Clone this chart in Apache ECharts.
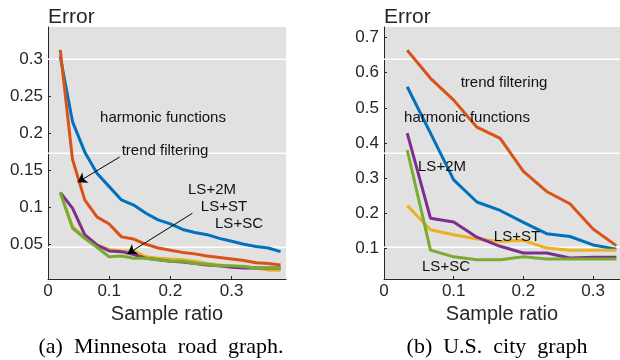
<!DOCTYPE html>
<html>
<head>
<meta charset="utf-8">
<script src="https://cdn.jsdelivr.net/npm/echarts@6/dist/echarts.min.js"></script>
<style>
  html, body { margin: 0; padding: 0; background: #fff; }
  #chart { width: 620px; height: 360px; }
</style>
</head>
<body>
<div id="chart"></div>
<script>
// (a) Minnesota road graph
const ratioA = [0.02, 0.04, 0.06, 0.08, 0.10, 0.12, 0.14, 0.16, 0.18, 0.20,
                0.22, 0.24, 0.26, 0.28, 0.30, 0.32, 0.34, 0.36, 0.38];
const harmonicA = [0.304, 0.216, 0.175, 0.146, 0.128, 0.110, 0.103, 0.092, 0.083, 0.0775,
                   0.070, 0.066, 0.063, 0.058, 0.054, 0.050, 0.047, 0.045, 0.040];
const trendA = [0.313, 0.165, 0.110, 0.087, 0.0775, 0.060, 0.057, 0.050, 0.045, 0.042,
                0.039, 0.037, 0.034, 0.032, 0.030, 0.028, 0.025, 0.024, 0.022];
const lsstA = [0.120, 0.074, 0.059, 0.049, 0.043, 0.041, 0.041, 0.033, 0.031, 0.030,
               0.029, 0.027, 0.024, 0.022, 0.020, 0.020, 0.018, 0.015, 0.015];
const ls2mA = [0.120, 0.099, 0.063, 0.049, 0.041, 0.040, 0.036, 0.031, 0.029, 0.027,
               0.026, 0.024, 0.022, 0.021, 0.019, 0.018, 0.018, 0.018, 0.018];
const lsscA = [0.120, 0.072, 0.058, 0.046, 0.033, 0.034, 0.031, 0.031, 0.029, 0.027,
               0.027, 0.024, 0.023, 0.021, 0.021, 0.020, 0.018, 0.018, 0.018];

// (b) U.S. city graph
const ratioB = [0.0333, 0.0667, 0.1, 0.1333, 0.1667, 0.2, 0.2333, 0.2667, 0.3, 0.3333];
const harmonicB = [0.560, 0.428, 0.295, 0.232, 0.208, 0.174, 0.142, 0.134, 0.110, 0.098];
const trendB = [0.664, 0.584, 0.522, 0.445, 0.413, 0.319, 0.262, 0.227, 0.155, 0.108];
const lsstB = [0.222, 0.153, 0.139, 0.127, 0.120, 0.123, 0.101, 0.095, 0.095, 0.095];
const ls2mB = [0.428, 0.186, 0.175, 0.132, 0.106, 0.087, 0.087, 0.073, 0.075, 0.075];
const lsscB = [0.380, 0.095, 0.076, 0.068, 0.068, 0.076, 0.070, 0.070, 0.070, 0.070];

const xTicks = [0, 0.1, 0.2, 0.3];
const yTicksA = [0.05, 0.1, 0.15, 0.2, 0.25, 0.3];
const yTicksB = [0.1, 0.2, 0.3, 0.4, 0.5, 0.6, 0.7];

const colors = {
  harmonic: "#0072BD",
  trend: "#D95319",
  lsst: "#EDB120",
  ls2m: "#7E2F8E",
  lssc: "#77AC30",
};

const axisColor = "#262626";
const sans = "'Liberation Sans', Arial, sans-serif";

const pairs = (xs, ys) => xs.map((x, i) => [x, ys[i]]);

const xAxisBase = (gridIndex, max) => ({
  type: "value",
  gridIndex,
  min: 0,
  max,
  name: "Sample ratio",
  nameLocation: "middle",
  nameGap: 32,
  nameTextStyle: { fontFamily: sans, fontSize: 20, color: axisColor, verticalAlign: "middle" },
  axisLine: { show: true, lineStyle: { color: axisColor, width: 1 } },
  axisTick: { show: true, inside: true, length: 3, customValues: xTicks, lineStyle: { color: axisColor } },
  axisLabel: { customValues: xTicks, margin: 4, fontFamily: sans, fontSize: 17, color: axisColor },
  splitLine: { show: false },
});

const yAxisBase = (gridIndex, min, max, ticks) => ({
  type: "value",
  gridIndex,
  min,
  max,
  name: "Error",
  nameLocation: "end",
  nameGap: 10,
  nameTextStyle: { fontFamily: sans, fontSize: 21, color: axisColor, align: "left", verticalAlign: "middle" },
  axisLine: { show: true, lineStyle: { color: axisColor, width: 1 } },
  axisTick: { show: true, inside: true, length: 3, customValues: ticks, lineStyle: { color: axisColor } },
  axisLabel: { customValues: ticks, margin: 5, fontFamily: sans, fontSize: 17, color: axisColor },
  splitLine: { show: false },
});

const lineSeries = (name, idx, xs, ys, color, extra) =>
  Object.assign({
    name,
    type: "line",
    xAxisIndex: idx,
    yAxisIndex: idx,
    data: pairs(xs, ys),
    showSymbol: false,
    lineStyle: { color, width: 3 },
    itemStyle: { color },
    z: 3,
  }, extra || {});

const arrow = (from, to) => [{ coord: from }, { coord: to }];

const arrowMark = (lines) => ({
  markLine: {
    silent: true,
    symbol: ["none", "arrow"],
    symbolSize: 9,
    label: { show: false },
    lineStyle: { color: "#000", width: 1, type: "solid" },
    data: lines,
  },
});

const note = (text, x, y) => ({
  type: "text",
  x,
  y,
  z: 100,
  style: {
    text,
    fill: "#111",
    font: "15px " + sans,
    textAlign: "center",
    textVerticalAlign: "middle",
  },
});

const caption = (text, x) => ({
  type: "text",
  x,
  y: 347,
  style: {
    text,
    fill: "#000",
    font: "22px 'Liberation Serif', 'Times New Roman', serif",
    textAlign: "center",
    textVerticalAlign: "middle",
  },
});

// white scan-line artifacts seen in the source figure
const stripe = (x, w, y) => ({
  type: "rect",
  z: 1,
  shape: { x, y: y - 0.8, width: w, height: 1.6 },
  style: { fill: "#ffffff" },
});

const chart = echarts.init(document.getElementById("chart"));

chart.setOption({
  animation: false,
  backgroundColor: "#fff",
  grid: [
    { left: 48, top: 27, width: 238, height: 252, show: true, backgroundColor: "#e1e1e1", borderWidth: 0 },
    { left: 384, top: 27, width: 236, height: 252, show: true, backgroundColor: "#e1e1e1", borderWidth: 0 },
  ],
  xAxis: [xAxisBase(0, 0.3889), xAxisBase(1, 0.3386)],
  yAxis: [yAxisBase(0, 0.003, 0.344, yTicksA), yAxisBase(1, 0.013, 0.73, yTicksB)],
  series: [
    lineSeries("harmonic functions", 0, ratioA, harmonicA, colors.harmonic),
    lineSeries("trend filtering", 0, ratioA, trendA, colors.trend,
      arrowMark([arrow([0.117, 0.168], [0.0485, 0.134]), arrow([0.236, 0.092], [0.130, 0.037])])),
    lineSeries("LS+ST", 0, ratioA, lsstA, colors.lsst),
    lineSeries("LS+2M", 0, ratioA, ls2mA, colors.ls2m),
    lineSeries("LS+SC", 0, ratioA, lsscA, colors.lssc),
    lineSeries("harmonic functions", 1, ratioB, harmonicB, colors.harmonic),
    lineSeries("trend filtering", 1, ratioB, trendB, colors.trend),
    lineSeries("LS+ST", 1, ratioB, lsstB, colors.lsst),
    lineSeries("LS+2M", 1, ratioB, ls2mB, colors.ls2m),
    lineSeries("LS+SC", 1, ratioB, lsscB, colors.lssc),
  ],
  graphic: [
    stripe(46, 240, 59.3), stripe(46, 240, 153.3), stripe(46, 240, 247.3),
    stripe(382, 238, 59.3), stripe(382, 238, 153.3), stripe(382, 238, 247.3),
    note("harmonic functions", 163, 118),
    note("trend filtering", 165, 151),
    note("LS+2M", 212, 190),
    note("LS+ST", 224, 207),
    note("LS+SC", 239, 224),
    note("trend filtering", 504, 83),
    note("harmonic functions", 467, 118),
    note("LS+2M", 442, 167),
    note("LS+ST", 517, 237),
    note("LS+SC", 446, 267),
    caption("(a)  Minnesota  road  graph.", 161),
    caption("(b)  U.S.  city  graph", 497),
  ],
});
</script>
</body>
</html>
